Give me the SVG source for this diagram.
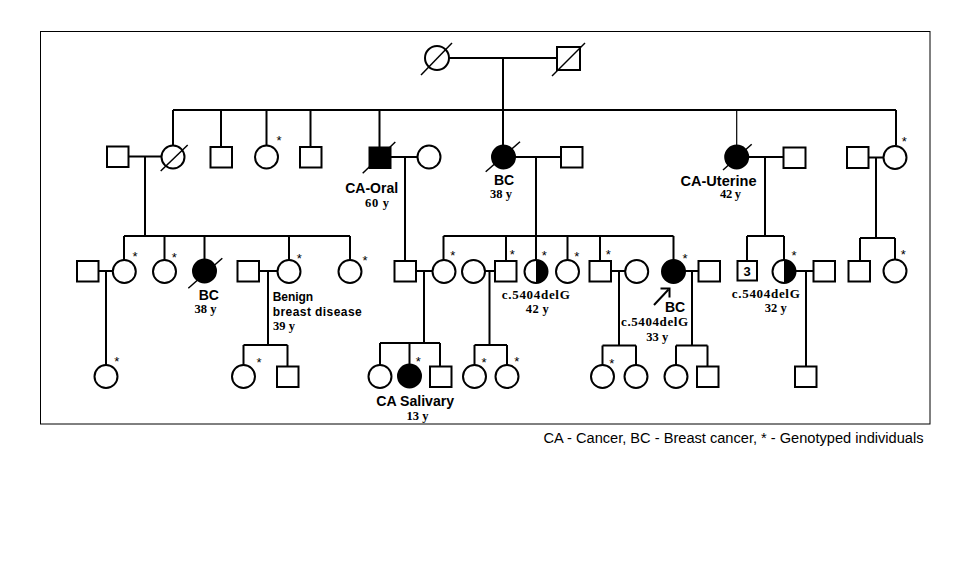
<svg xmlns="http://www.w3.org/2000/svg" width="956" height="581" viewBox="0 0 956 581">
<style>
.ln{fill:none;stroke:#000;stroke-width:2}
.thin{fill:none;stroke:#000;stroke-width:1.2}
.sl{fill:none;stroke:#000;stroke-width:1.5}
.m{fill:#fff;stroke:#000;stroke-width:2}
.f{fill:#000;stroke:#000;stroke-width:2}
.lab{font-family:"Liberation Sans",Arial,sans-serif;font-weight:bold;font-size:14px;text-anchor:middle}
.age{font-family:"Liberation Serif","Times New Roman",serif;font-weight:bold;font-size:12.5px;text-anchor:middle}
.mut{font-family:"Liberation Serif","Times New Roman",serif;font-weight:bold;font-size:13px;text-anchor:middle}
.ast{font-family:"Liberation Sans",Arial,sans-serif;font-size:13px;text-anchor:middle}
.ben{font-family:"Liberation Sans",Arial,sans-serif;font-weight:bold;font-size:12px}
.cap{font-family:"Liberation Sans",Arial,sans-serif;font-size:14px}
</style>
<rect x="0" y="0" width="956" height="581" fill="#fff"/>
<rect x="40.5" y="31.5" width="889.5" height="392.5" fill="none" stroke="#000" stroke-width="1"/>

<g id="connectors">
<path class="ln" d="M449,58 H557 M503,58 V145.5 M173,110 H896"/>
<path class="ln" d="M173,110 V145.5 M221,110 V147 M266.5,110 V145.5 M310.5,110 V147 M379.5,110 V147 M896,110 V145.5"/>
<path class="thin" d="M736.7,110 V145.5"/>
<path class="ln" d="M128,156.5 H161.5 M145,156.5 V236 M390.5,157 H417.5 M405,157 V261 M514.5,157 H561 M536,157 V236 M748,157 H783 M765,157 V236 M868,157.5 H883.5 M876,157.5 V238"/>
<path class="ln" d="M124,236 H350 M124,236 V260 M164.5,236 V260 M204.5,236 V260 M289,236 V260 M350,236 V260"/>
<path class="ln" d="M98,271 H113 M106,271 V365 M259,271 H277.5 M268,271 V345 M243.5,345 H287.5 M243.5,345 V365 M287.5,345 V366"/>
<path class="ln" d="M416,271 H432.5 M424,271 V343 M380,343 H440 M380,343 V365 M409.5,343 V364.5 M440,343 V366"/>
<path class="ln" d="M443.5,236 H673.5 M443.5,236 V260 M506,236 V261 M536,236 V260 M567.5,236 V260 M600,236 V261 M673.5,236 V260"/>
<path class="ln" d="M485,271 H495 M489.5,271 V345 M474.5,345 H507 M474.5,345 V365 M507,345 V365"/>
<path class="ln" d="M611,271 H625 M619,271 V345.5 M602.5,345.5 H636 M602.5,345.5 V365 M636,345.5 V365"/>
<path class="ln" d="M685,271 H698 M692,271 V345.5 M676,345.5 H707.5 M676,345.5 V365 M707.5,345.5 V366"/>
<path class="ln" d="M747,236 H784 M747,236 V261 M784,236 V260 M795.5,271 H813 M806,271 V366"/>
<path class="ln" d="M860,238 H895 M860,238 V261 M895,238 V259"/>
</g>

<g id="gen1">
<g id="I1"><circle class="m" cx="437" cy="58" r="12"/><line class="sl" x1="421" y1="75" x2="452" y2="43"/></g>
<g id="I2"><rect class="m" x="557" y="47" width="23" height="23"/><line class="sl" x1="552" y1="76" x2="585" y2="43"/></g>
</g>

<g id="gen2">
<g id="II1"><rect class="m" x="107" y="146.5" width="21.5" height="20.5"/></g>
<g id="II2"><circle class="m" cx="173" cy="157" r="11.5"/><line class="sl" x1="160.7" y1="171" x2="187.7" y2="145"/></g>
<g id="II3"><rect class="m" x="210.5" y="147" width="21.5" height="20.5"/></g>
<g id="II4"><circle class="m" cx="266.5" cy="157" r="11.5"/><text class="ast" x="279" y="144.5">*</text></g>
<g id="II5"><rect class="m" x="300" y="147" width="21.5" height="20.5"/></g>
<g id="II6"><rect class="f" x="369.5" y="147.5" width="21" height="20.5"/><line class="sl" x1="362.7" y1="173.3" x2="395.3" y2="142"/>
<text class="lab" x="371.7" y="193">CA-Oral</text><text class="age" x="377" y="206.5" textLength="24" lengthAdjust="spacing">60 y</text></g>
<g id="II7"><circle class="m" cx="429" cy="157" r="11.5"/></g>
<g id="II8"><circle class="f" cx="503.5" cy="157" r="11.5"/><line class="sl" x1="485.7" y1="171.7" x2="520" y2="141.7"/>
<text class="lab" x="504" y="184.5">BC</text><text class="age" x="501" y="197.5" textLength="22" lengthAdjust="spacing">38 y</text></g>
<g id="II9"><rect class="m" x="561" y="147" width="21.5" height="20.5"/></g>
<g id="II10"><circle class="f" cx="736.7" cy="157" r="11.5"/><line class="sl" x1="723" y1="170" x2="751.7" y2="144.3"/>
<text class="lab" x="718.5" y="185.5" textLength="76" lengthAdjust="spacingAndGlyphs">CA-Uterine</text><text class="age" x="730.5" y="198" textLength="21" lengthAdjust="spacing">42 y</text></g>
<g id="II11"><rect class="m" x="783.5" y="147.5" width="22" height="20.5"/></g>
<g id="II12"><rect class="m" x="847" y="147" width="21.5" height="21"/></g>
<g id="II13"><circle class="m" cx="895" cy="157.5" r="11.5"/><text class="ast" x="904.3" y="145.5">*</text></g>
</g>

<g id="gen3">
<g id="III1"><rect class="m" x="77" y="261" width="21.5" height="20.5"/></g>
<g id="III2"><circle class="m" cx="124.3" cy="271.5" r="11.5"/><text class="ast" x="135" y="260.5">*</text></g>
<g id="III3"><circle class="m" cx="164.5" cy="271.5" r="11.5"/><text class="ast" x="174.3" y="261.5">*</text></g>
<g id="III4"><circle class="f" cx="204.5" cy="271" r="11.5"/><line class="sl" x1="188.3" y1="288.3" x2="222.3" y2="258.3"/>
<text class="lab" x="208.8" y="300">BC</text><text class="age" x="205.5" y="313.3" textLength="22" lengthAdjust="spacing">38 y</text></g>
<g id="III5"><rect class="m" x="237.5" y="261" width="21.5" height="20.5"/></g>
<g id="III6"><circle class="m" cx="289" cy="271.5" r="11.5"/><text class="ast" x="299.3" y="262.5">*</text>
<text class="ben" x="272.7" y="300.5" textLength="40.5" lengthAdjust="spacing">Benign</text>
<text class="ben" x="272.7" y="316" textLength="89" lengthAdjust="spacing">breast disease</text>
<text class="age" x="273" y="330" style="text-anchor:start" textLength="22" lengthAdjust="spacing">39 y</text></g>
<g id="III7"><circle class="m" cx="350" cy="271.5" r="11.5"/><text class="ast" x="365" y="264.5">*</text></g>
<g id="III8"><rect class="m" x="394.5" y="261" width="21.5" height="20.5"/></g>
<g id="III9"><circle class="m" cx="444" cy="271.5" r="11.5"/><text class="ast" x="452.7" y="259.8">*</text></g>
<g id="III10"><circle class="m" cx="473.5" cy="271.5" r="11.5"/></g>
<g id="III11"><rect class="m" x="495" y="261" width="21.5" height="20.5"/><text class="ast" x="512.3" y="259.2">*</text></g>
<g id="III12"><circle class="m" cx="536" cy="271.5" r="11.5"/><path d="M536,260 A11.5,11.5 0 0 1 536,283 Z" fill="#000"/><text class="ast" x="544.3" y="260.2">*</text>
<text class="mut" x="535.8" y="299.3" textLength="68" lengthAdjust="spacing">c.5404delG</text><text class="age" x="537.3" y="313.3" textLength="23" lengthAdjust="spacing">42 y</text></g>
<g id="III13"><circle class="m" cx="567.5" cy="271.5" r="11.5"/><text class="ast" x="576.7" y="260.5">*</text></g>
<g id="III14"><rect class="m" x="589.5" y="261" width="21.5" height="20.5"/><text class="ast" x="608.3" y="259.2">*</text></g>
<g id="III15"><circle class="m" cx="636.7" cy="271.5" r="11.5"/></g>
<g id="III16"><circle class="f" cx="673.5" cy="271.5" r="11.5"/><text class="ast" x="685" y="262.5">*</text>
<path class="ln" d="M654,305 L668.5,289.5" stroke-width="2.5"/><path class="ln" d="M660.5,288.5 H669.5 V297.5" stroke-width="2.5"/>
<text class="lab" x="675" y="311.7">BC</text>
<text class="mut" x="654.6" y="325.5" textLength="67" lengthAdjust="spacing">c.5404delG</text>
<text class="age" x="657.2" y="341" textLength="22" lengthAdjust="spacing">33 y</text></g>
<g id="III17"><rect class="m" x="698.5" y="261" width="21.5" height="20.5"/></g>
<g id="III18"><rect class="m" x="737.5" y="261" width="19.5" height="19.5"/><text class="lab" x="747" y="275.5" style="font-size:13px">3</text></g>
<g id="III19"><circle class="m" cx="784" cy="271.5" r="11.5"/><path d="M784,260 A11.5,11.5 0 0 1 784,283 Z" fill="#000"/><text class="ast" x="794" y="260.2">*</text>
<text class="mut" x="765.8" y="298.3" textLength="68" lengthAdjust="spacing">c.5404delG</text><text class="age" x="775.8" y="311.7" textLength="22" lengthAdjust="spacing">32 y</text></g>
<g id="III20"><rect class="m" x="813.5" y="261" width="21.5" height="20.5"/></g>
<g id="III21"><rect class="m" x="848.5" y="261" width="21.5" height="20.5"/></g>
<g id="III22"><circle class="m" cx="895" cy="271" r="11.5"/><text class="ast" x="903.3" y="259.2">*</text></g>
</g>

<g id="gen4">
<g id="IV1"><circle class="m" cx="106" cy="376.5" r="11.5"/><text class="ast" x="116.7" y="365.5">*</text></g>
<g id="IV2"><circle class="m" cx="243.5" cy="376.5" r="11.5"/><text class="ast" x="259" y="366.5">*</text></g>
<g id="IV3"><rect class="m" x="277" y="366.5" width="21.5" height="20.5"/></g>
<g id="IV4"><circle class="m" cx="380" cy="376.5" r="11.5"/></g>
<g id="IV5"><circle class="f" cx="409.5" cy="376" r="11.5"/><text class="ast" x="418.3" y="365.5">*</text>
<text class="lab" x="415.2" y="406" textLength="78" lengthAdjust="spacingAndGlyphs">CA Salivary</text><text class="age" x="417.5" y="420" textLength="22" lengthAdjust="spacing">13 y</text></g>
<g id="IV6"><rect class="m" x="430" y="366.5" width="21.5" height="20.5"/></g>
<g id="IV7"><circle class="m" cx="474.5" cy="376.5" r="11.5"/><text class="ast" x="484" y="366.5">*</text></g>
<g id="IV8"><circle class="m" cx="507" cy="376.5" r="11.5"/><text class="ast" x="516.7" y="365.5">*</text></g>
<g id="IV9"><circle class="m" cx="602.5" cy="376.5" r="11.5"/><text class="ast" x="611.7" y="368.2">*</text></g>
<g id="IV10"><circle class="m" cx="636" cy="376.5" r="11.5"/></g>
<g id="IV11"><circle class="m" cx="676" cy="376.5" r="11.5"/></g>
<g id="IV12"><rect class="m" x="697" y="366.5" width="21.5" height="20.5"/></g>
<g id="IV13"><rect class="m" x="795" y="366.5" width="21.5" height="20.5"/></g>
</g>

<text class="cap" x="543.5" y="443" textLength="380" lengthAdjust="spacingAndGlyphs">CA - Cancer, BC - Breast cancer, * - Genotyped individuals</text>
</svg>
